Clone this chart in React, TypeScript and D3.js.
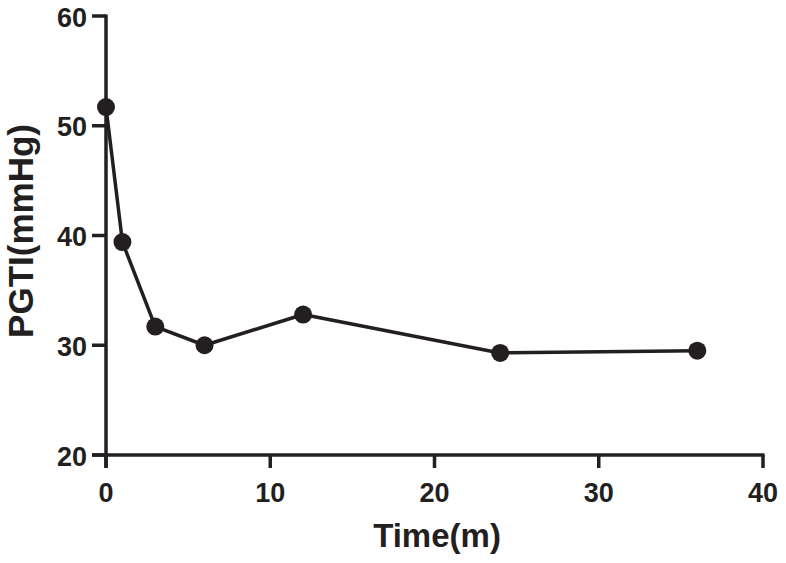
import React from "react";
import * as d3 from "d3";

const times = [0, 1, 3, 6, 12, 24, 36];
const pgti = [51.7, 39.4, 31.7, 30.0, 32.8, 29.3, 29.5];
const xTicks = [0, 10, 20, 30, 40];
const yTicks = [20, 30, 40, 50, 60];

export default function App() {
  const W = 786, H = 563;
  const x = d3.scaleLinear().domain([0, 40]).range([106, 763]);
  const y = d3.scaleLinear().domain([20, 60]).range([455, 16]);
  const line = d3.line<number>().x((_, i) => x(times[i])).y((d) => y(d));
  const col = "#231f20";
  const font = "Liberation Sans, Arial, sans-serif";
  return (
    <svg width={W} height={H} style={{ position: "absolute", left: 0, top: 0, background: "#fff" }}>
      <g stroke={col} strokeWidth={3.5} fill="none">
        <line x1={x(0)} x2={x(0)} y1={y(60) - 1.5} y2={468} strokeLinecap="butt" />
        <line x1={92} x2={x(40) + 1.5} y1={y(20)} y2={y(20)} />
        {yTicks.map((t) => (
          <line key={"yt" + t} x1={92} x2={x(0)} y1={y(t)} y2={y(t)} />
        ))}
        {xTicks.map((t) => (
          <line key={"xt" + t} x1={x(t)} x2={x(t)} y1={y(20)} y2={468} />
        ))}
      </g>
      {yTicks.map((t) => (
        <text key={"yl" + t} x={87} y={y(t) + 1} dy="0.36em" textAnchor="end" fontFamily={font} fontWeight="bold" fontSize={27} fill={col}>
          {t}
        </text>
      ))}
      {xTicks.map((t) => (
        <text key={"xl" + t} x={x(t)} y={502} textAnchor="middle" fontFamily={font} fontWeight="bold" fontSize={27} fill={col}>
          {t}
        </text>
      ))}
      <text x={437} y={547} textAnchor="middle" fontFamily={font} fontWeight="bold" fontSize={33} fill={col}>
        Time(m)
      </text>
      <text transform={`translate(33,231) rotate(-90)`} textAnchor="middle" fontFamily={font} fontWeight="bold" fontSize={35} fill={col}>
        PGTI(mmHg)
      </text>
      <path d={line(pgti) || ""} fill="none" stroke={col} strokeWidth={3.5} strokeLinejoin="round" />
      {pgti.map((v, i) => (
        <circle key={"p" + i} cx={x(times[i])} cy={y(v)} r={9} fill={col} />
      ))}
    </svg>
  );
}
